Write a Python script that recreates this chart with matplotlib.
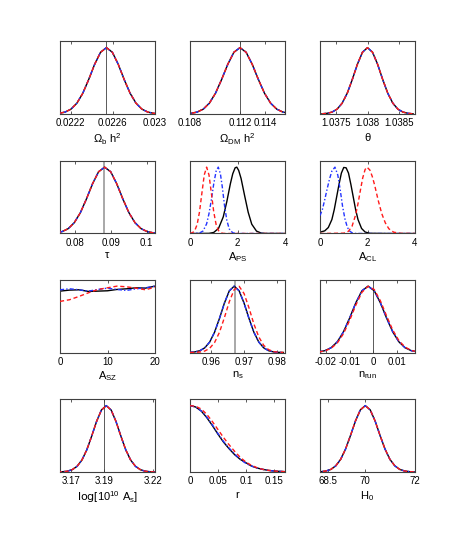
import numpy as np
import matplotlib
matplotlib.use('Agg')
from matplotlib import pyplot as plt

plt.rcParams['font.family'] = ['Liberation Sans Narrow', 'Liberation Sans', 'DejaVu Sans']
plt.rcParams['mathtext.fontset'] = 'custom'
plt.rcParams['mathtext.rm'] = 'Liberation Sans Narrow'
plt.rcParams['mathtext.it'] = 'Liberation Sans Narrow'
plt.rcParams['mathtext.default'] = 'regular'

# ---- data (curves normalised to peak = 1) ----
gauss19 = [.003, .010, .029, .073, .163, .313, .520, .748, .930, 1,
           .930, .748, .520, .313, .163, .073, .029, .010, .003]

# Omega_b h^2
omb_x = [0.022036, 0.022092, 0.022148, 0.022204, 0.02226, 0.022316, 0.022372,
         0.022428, 0.022484, 0.02254, 0.022596, 0.022652, 0.022708, 0.022764,
         0.02282, 0.022876, 0.022932, 0.022988, 0.023044]
omb_y = gauss19

# Omega_DM h^2
omc_x = [0.10759, 0.10808, 0.10857, 0.10906, 0.10955, 0.11004, 0.11053, 0.11102,
         0.11151, 0.112, 0.11249, 0.11298, 0.11347, 0.11396, 0.11445, 0.11494,
         0.11543, 0.11592, 0.11641]
omc_y = gauss19

# theta
theta_x = [1.03728, 1.03736, 1.03744, 1.03752, 1.0376, 1.03768, 1.03776, 1.03784,
           1.03792, 1.038, 1.03808, 1.03816, 1.03824, 1.03832, 1.0384, 1.03848,
           1.03856, 1.03864, 1.03872]
theta_y = gauss19

# tau
tau_x = [0.0729, 0.0746, 0.0763, 0.078, 0.0797, 0.0814, 0.0831, 0.0848, 0.0865,
         0.0882, 0.0899, 0.0916, 0.0933, 0.095, 0.0967, 0.0984, 0.1001, 0.1018, 0.1035]
tau_y = gauss19

# A_PS
aps_k_x = [0, 0.8, 1.0, 1.2, 1.4, 1.55, 1.7, 1.8, 1.9, 1.97, 2.05, 2.15, 2.3, 2.45,
           2.6, 2.8, 3.0, 3.2, 4]
aps_k_y = [0, .002, .016, .076, .25, .48, .75, .90, .99, 1, .95, .83, .57, .32,
           .14, .036, .006, .001, 0]
aps_b_x = [0, 0.4, 0.55, 0.7, 0.8, 0.9, 1.0, 1.1, 1.19, 1.28, 1.36, 1.45, 1.55,
           1.65, 1.8, 2.0, 4]
aps_b_y = [0, .007, .038, .146, .30, .51, .75, .94, 1, .90, .70, .43, .20,
           .07, .01, 0, 0]
aps_r_x = [0, 0.1, 0.2, 0.3, 0.4, 0.5, 0.6, 0.7, 0.8, 0.9, 1.0, 1.1, 1.2, 1.3,
           1.4, 1.6, 4]
aps_r_y = [.002, .011, .044, .135, .325, .607, .882, 1, .882, .607, .325, .135,
           .044, .011, .002, 0, 0]

# A_CL
acl_k_x = [0, 0.2, 0.35, 0.5, 0.6, 0.7, 0.8, 0.9, 1.0, 1.1, 1.2, 1.3, 1.4, 1.5,
           1.6, 1.75, 1.9, 2.1, 3, 4]
acl_k_y = [.02, .04, .09, .21, .36, .55, .74, .91, .995, .99, .91, .74, .55, .36,
           .21, .076, .022, .003, 0, 0]
acl_b_x = [0, 0.1, 0.2, 0.3, 0.4, 0.5, 0.63, 0.75, 0.85, 0.95, 1.05, 1.15, 1.25,
           1.35, 1.5, 2, 3, 4]
acl_b_y = [.27, .36, .51, .67, .82, .94, 1, .88, .66, .41, .22, .095, .036,
           .011, .001, 0, 0, 0]
acl_r_x = [0, 1.0, 1.2, 1.35, 1.5, 1.6, 1.7, 1.8, 1.9, 1.98, 2.1, 2.2, 2.3, 2.45,
           2.6, 2.75, 2.9, 3.1, 3.4, 4]
acl_r_y = [0, .005, .034, .11, .28, .45, .65, .84, .965, 1, .956, .86, .73, .50,
           .30, .16, .071, .02, .002, 0]

# A_SZ
asz_x = [0, 2, 4, 6, 8, 10, 12, 14, 16, 18, 20]
asz_k_y = [.925, .94, .945, .92, .925, .93, .95, .96, .975, .97, 1.0]
asz_b_y = [.945, .96, .945, .925, .95, .97, .95, .935, .96, .975, 1.0]
asz_r_y = [.77, .795, .845, .90, .95, .975, 1.0, .99, .97, .945, .985]

# n_s
ns_x = [0.9535, 0.955, 0.9565, 0.958, 0.9595, 0.961, 0.9625, 0.964, 0.9655, 0.967,
        0.9685, 0.97, 0.9715, 0.973, 0.9745, 0.976, 0.9775, 0.979, 0.9805, 0.982]
ns_k_y = [.0025, .009, .027, .070, .157, .306, .514, .744, .929, 1,
          .929, .744, .514, .306, .157, .070, .027, .009, .0025, .0006]
ns_r_y = [.0004, .0017, .0068, .022, .063, .15, .305, .525, .766, .949,
          .997, .889, .673, .43, .235, .108, .043, .014, .004, .001]

# n_run
nrun_x = [-0.023, -0.0204, -0.0178, -0.0152, -0.0126, -0.01, -0.0074, -0.0048,
          -0.0022, 0.0004, 0.003, 0.0056, 0.0082, 0.0108, 0.0134, 0.016, 0.0186]
nrun_k_y = [.009, .028, .072, .161, .311, .519, .747, .930, 1,
            .930, .747, .519, .311, .161, .072, .028, .009]
nrun_r_y = [.0077, .024, .063, .143, .283, .482, .713, .907, .998,
            .949, .778, .552, .339, .180, .082, .032, .011]

# log[10^10 A_s]
las_x = [3.1615, 3.1645, 3.1675, 3.1705, 3.1735, 3.1765, 3.1795, 3.1825, 3.1855,
         3.1885, 3.1915, 3.1945, 3.1975, 3.2005, 3.2035, 3.2065, 3.2095, 3.2125,
         3.2155, 3.2185, 3.2215]
las_y = [.001, .004, .012, .035, .085, .180, .334, .540, .760, .934, 1,
         .934, .760, .540, .334, .180, .085, .035, .012, .004, .001]

# r
r_x = [0, .01, .02, .03, .04, .05, .06, .07, .08, .09, .10, .11, .12, .13, .14,
       .15, .16, .17]
r_k_y = [1.0, .98, .92, .82, .70, .57, .45, .35, .26, .19, .14, .09, .06, .04,
         .025, .015, .01, .005]
r_b_y = [1.0, .98, .92, .83, .71, .58, .46, .36, .27, .19, .13, .09, .06, .04,
         .025, .015, .01, .005]
r_r_y = [1.0, .99, .95, .87, .76, .64, .52, .41, .31, .22, .15, .10, .065, .04,
         .025, .015, .01, .005]

# H_0
h0_x = [68.0, 68.2, 68.4, 68.6, 68.8, 69.0, 69.2, 69.4, 69.6, 69.8, 70.0,
        70.2, 70.4, 70.6, 70.8, 71.0, 71.2, 71.4, 71.6, 71.8, 72.0]
h0_y = [.001, .005, .015, .039, .093, .191, .347, .551, .768, .936, 1,
        .936, .768, .551, .347, .191, .093, .039, .015, .005, .001]

labels = [r'$\Omega_b\ h^2$', r'$\Omega_{DM}\ h^2$', r'$\theta$',
          r'$\tau$', r'$A_{PS}$', r'$A_{CL}$',
          r'$A_{SZ}$', r'$n_s$', r'$n_{run}$',
          r'$\log[10^{10}\ A_s]$', r'$r$', r'$H_0$']
xlims = [(0.0221, 0.0230), (0.108, 0.1156), (1.03725, 1.03875),
         (0.0757, 0.1023), (0, 4), (0, 4),
         (0, 20), (0.9535, 0.9825), (-0.0225, 0.0176),
         (3.163, 3.2215), (0, 0.17), (68.16, 72.02)]
ticks = [[0.0222, 0.0226, 0.023], [0.108, 0.112, 0.114], [1.0375, 1.038, 1.0385],
         [0.08, 0.09, 0.1], [0, 2, 4], [0, 2, 4],
         [0, 10, 20], [0.96, 0.97, 0.98], [-0.02, -0.01, 0, 0.01],
         [3.17, 3.19, 3.22], [0, 0.05, 0.1, 0.15], [68.5, 70, 72]]
ticklabels = [['0.0222', '0.0226', '0.023'], ['0.108', '0.112', '0.114'],
              ['1.0375', '1.038', '1.0385'], ['0.08', '0.09', '0.1'],
              ['0', '2', '4'], ['0', '2', '4'], ['0', '10', '20'],
              ['0.96', '0.97', '0.98'], ['-0.02', '-0.01', '0', '0.01'],
              ['3.17', '3.19', '3.22'], ['0', '0.05', '0.1', '0.15'],
              ['68.5', '70', '72']]
# fiducial value lines: (value, colour, width)
fiducial = {0: (0.02254, '0.35', 0.7), 1: (0.112, '0.35', 0.7),
            3: (0.0879, '0.6', 1.2), 7: (0.9672, '0.6', 1.2),
            8: (0.0, '0.35', 0.7), 9: (3.19, '0.35', 0.7)}

curves = [
    [(omb_x, omb_y), (omb_x, omb_y), (omb_x, omb_y)],
    [(omc_x, omc_y), (omc_x, omc_y), (omc_x, omc_y)],
    [(theta_x, theta_y), (theta_x, theta_y), (theta_x, theta_y)],
    [(tau_x, tau_y), (tau_x, tau_y), (tau_x, tau_y)],
    [(aps_k_x, aps_k_y), (aps_b_x, aps_b_y), (aps_r_x, aps_r_y)],
    [(acl_k_x, acl_k_y), (acl_b_x, acl_b_y), (acl_r_x, acl_r_y)],
    [(asz_x, asz_k_y), (asz_x, asz_b_y), (asz_x, asz_r_y)],
    [(ns_x, ns_k_y), (ns_x, ns_k_y), (ns_x, ns_r_y)],
    [(nrun_x, nrun_k_y), (nrun_x, nrun_k_y), (nrun_x, nrun_r_y)],
    [(las_x, las_y), (las_x, las_y), (las_x, las_y)],
    [(r_x, r_k_y), (r_x, r_b_y), (r_x, r_r_y)],
    [(h0_x, h0_y), (h0_x, h0_y), (h0_x, h0_y)],
]

fig = plt.figure(figsize=(4.63, 5.45), dpi=100)
W, H = 463.0, 545.0
lefts = [60, 190, 320]
bottoms = [114, 233.5, 352.5, 472]
aw, ah = 95, 73

frame = '0.25'
for i in range(12):
    row, col = divmod(i, 3)
    ax = fig.add_axes([lefts[col] / W, 1 - bottoms[row] / H, aw / W, ah / H])
    (kx, ky), (bx, by), (rx, ry) = curves[i]
    if i in fiducial:
        v, c, w = fiducial[i]
        ax.axvline(v, color=c, lw=w, zorder=1)
    ax.plot(kx, ky, color='black', lw=1.0, zorder=2)
    ax.plot(bx, by, color='#2233ff', lw=1.0, dashes=(3, 1.5, 1, 1.5), zorder=3)
    ax.plot(rx, ry, color='#ff1a1a', lw=1.0, dashes=(3, 2), zorder=4)
    ax.set_xlim(xlims[i])
    ax.set_ylim(0, 1.1)
    ax.set_yticks([])
    ax.set_xticks(ticks[i])
    ax.set_xticklabels(ticklabels[i])
    ax.tick_params(axis='x', direction='in', top=True, length=2.5, width=0.6,
                   color=frame, labelsize=7, pad=3)
    for s in ax.spines.values():
        s.set_color(frame)
        s.set_linewidth(0.8)
    ax.set_xlabel(labels[i], fontsize=8, labelpad=2)

plt.savefig('out.png', dpi=100)
